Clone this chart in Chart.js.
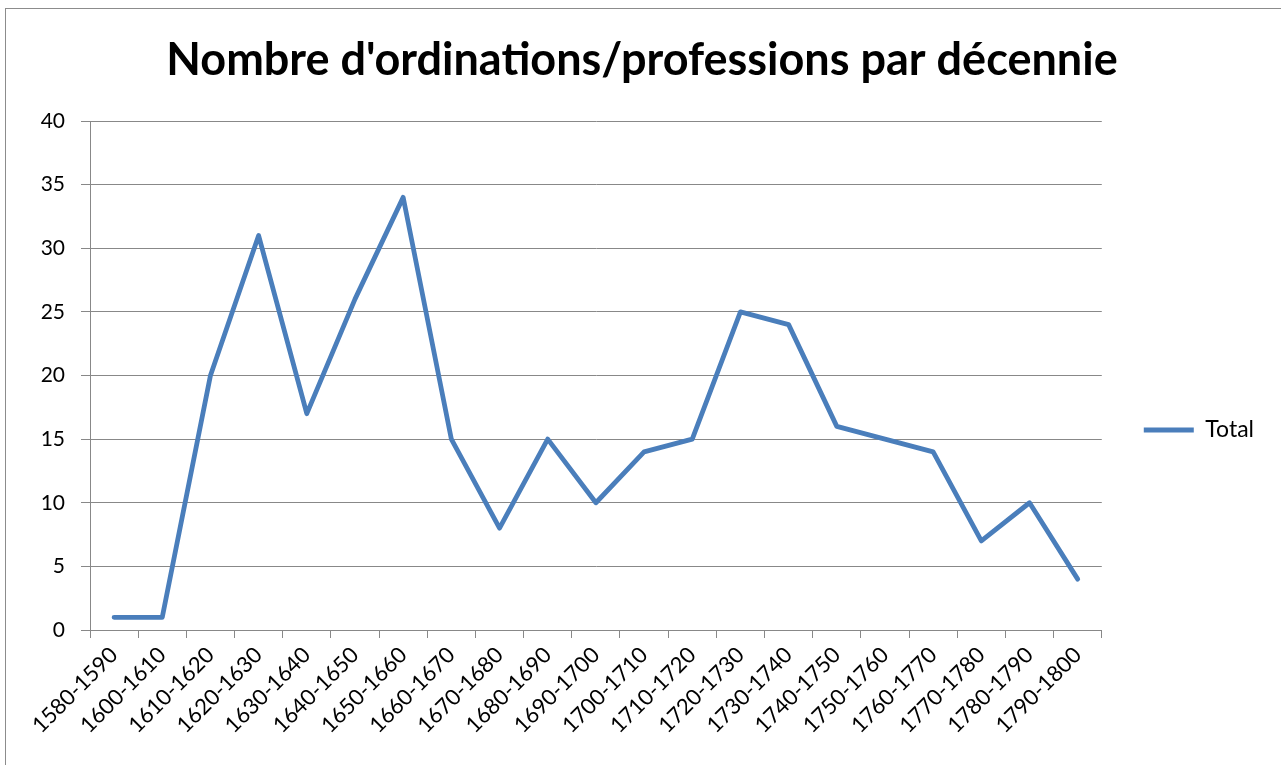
<!DOCTYPE html>
<html>
<head>
<meta charset="utf-8">
<script src="https://cdn.jsdelivr.net/npm/chart.js@4.4.0/dist/chart.umd.min.js"></script>
<style>
  html, body { margin: 0; padding: 0; background: #fff; overflow: hidden; }
  #frame { position: absolute; left: 5px; top: 8px; width: 1400px; height: 900px; border: 1px solid #8c8c8c; }
  #wrap { position: absolute; left: 0; top: 0; width: 1281px; height: 765px; }
</style>
</head>
<body>
<div id="frame"></div>
<div id="wrap"><canvas id="chart"></canvas></div>
<script>
// Data
const decades = ['1580-1590', '1600-1610', '1610-1620', '1620-1630', '1630-1640', '1640-1650',
  '1650-1660', '1660-1670', '1670-1680', '1680-1690', '1690-1700', '1700-1710', '1710-1720',
  '1720-1730', '1730-1740', '1740-1750', '1750-1760', '1760-1770', '1770-1780', '1780-1790',
  '1790-1800'];
const totals = [1, 1, 20, 31, 17, 26, 34, 15, 8, 15, 10, 14, 15, 25, 24, 16, 15, 14, 7, 10, 4];
const yTicks = [0, 5, 10, 15, 20, 25, 30, 35, 40];

const FONT = 'Lato, "Open Sans", sans-serif';
const GRID = '#888888';
const BLUE = '#4a7ebb';

// keep the legend centred where Excel puts it
const legendPlace = {
    id: 'legendPlace',
    afterLayout(chart) {
        const lg = chart.legend;
        const h = lg.bottom - lg.top;
        lg.top = 430 - h / 2;
        lg.bottom = lg.top + h;
    }
};

new Chart(document.getElementById('chart').getContext('2d'), {
    type: 'line',
    data: {
        labels: decades,
        datasets: [{
            label: 'Total',
            data: totals,
            borderColor: BLUE,
            backgroundColor: BLUE,
            borderWidth: 4.8,
            borderCapStyle: 'round',
            borderJoinStyle: 'round',
            pointRadius: 0,
            tension: 0
        }]
    },
    options: {
        responsive: true,
        maintainAspectRatio: false,
        animation: false,
        layout: { padding: { left: 20, right: 17, top: 0, bottom: 0 } },
        plugins: {
            title: {
                display: true,
                text: "Nombre d'ordinations/professions par décennie",
                color: '#000',
                font: { family: FONT, size: 45, weight: 'bold' },
                padding: { top: 33, bottom: 34 }
            },
            legend: {
                position: 'right',
                labels: {
                    color: '#000',
                    font: { family: FONT, size: 23 },
                    usePointStyle: true,
                    pointStyle: 'line',
                    pointStyleWidth: 50,
                    padding: 42
                }
            },
            tooltip: { enabled: false }
        },
        scales: {
            x: {
                offset: true,
                grid: { offset: true, drawOnChartArea: false, drawTicks: true, tickLength: 8, color: GRID, lineWidth: 1 },
                border: { display: true, color: GRID, width: 1 },
                ticks: {
                    color: '#000',
                    font: { family: FONT, size: 22 },
                    minRotation: 45,
                    maxRotation: 45,
                    autoSkip: false,
                    padding: 4
                },
                afterFit: s => { s.height = 135; }
            },
            y: {
                min: yTicks[0],
                max: yTicks[yTicks.length - 1],
                grid: { color: GRID, lineWidth: 1, drawTicks: true, tickLength: 9 },
                border: { display: true, color: GRID, width: 1 },
                ticks: {
                    stepSize: yTicks[1] - yTicks[0],
                    color: '#000',
                    font: { family: FONT, size: 21 },
                    padding: 16
                },
                afterFit: s => { s.width = 70; }
            }
        }
    },
    plugins: [legendPlace]
});
</script>
</body>
</html>
